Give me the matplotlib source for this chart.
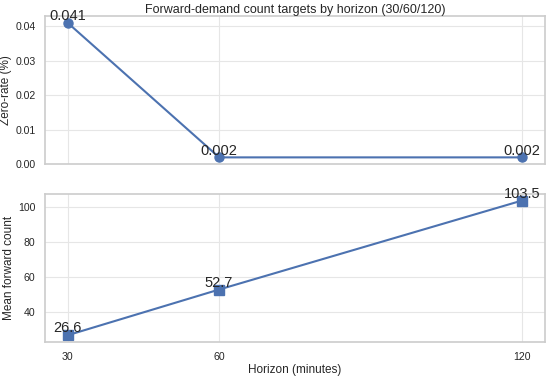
import matplotlib
matplotlib.use("Agg")
import matplotlib.pyplot as plt
import seaborn as sns

horizons = [30, 60, 120]
zero_rate = [0.041, 0.002, 0.002]
mean_count = [26.6, 52.7, 103.5]
zero_labels = ["0.041", "0.002", "0.002"]
count_labels = ["26.6", "52.7", "103.5"]

sns.set_theme(style="whitegrid")
plt.rcParams['font.family'] = ['Liberation Sans', 'DejaVu Sans']

color = "#4c72b0"
fig, (ax1, ax2) = plt.subplots(2, 1, sharex=True, figsize=(5.5, 3.77), dpi=100)
fig.subplots_adjust(left=0.082, right=0.99, top=0.957, bottom=0.093, hspace=0.2)

ax1.plot(horizons, zero_rate, marker="o", color=color, lw=1.5, ms=6.5)
for x, y, t in zip(horizons, zero_rate, zero_labels):
    ax1.annotate(t, (x, y), textcoords="offset points", xytext=(0, 2), ha="center", fontsize=10.5)
ax1.set_ylabel("Zero-rate (%)", fontsize=8.5, labelpad=2.5)
ax1.set_title("Forward-demand count targets by horizon (30/60/120)", fontsize=9, pad=2)
ax1.set_ylim(bottom=0)

ax2.plot(horizons, mean_count, marker="s", color=color, lw=1.5, ms=6.5)
for x, y, t in zip(horizons, mean_count, count_labels):
    ax2.annotate(t, (x, y), textcoords="offset points", xytext=(0, 2), ha="center", fontsize=10.5)
ax2.set_ylabel("Mean forward count", fontsize=8.5, labelpad=2.5)
ax2.set_xlabel("Horizon (minutes)", fontsize=8.5, labelpad=2)
ax2.set_xticks(horizons)

for ax in (ax1, ax2):
    ax.tick_params(labelsize=7.6, length=0, pad=7)
    for s in ax.spines.values():
        s.set_color("#cccccc")
        s.set_linewidth(1.2)
    ax.grid(True, color="#e6e6e6", lw=0.8)

fig.savefig("out.png", dpi=100)
